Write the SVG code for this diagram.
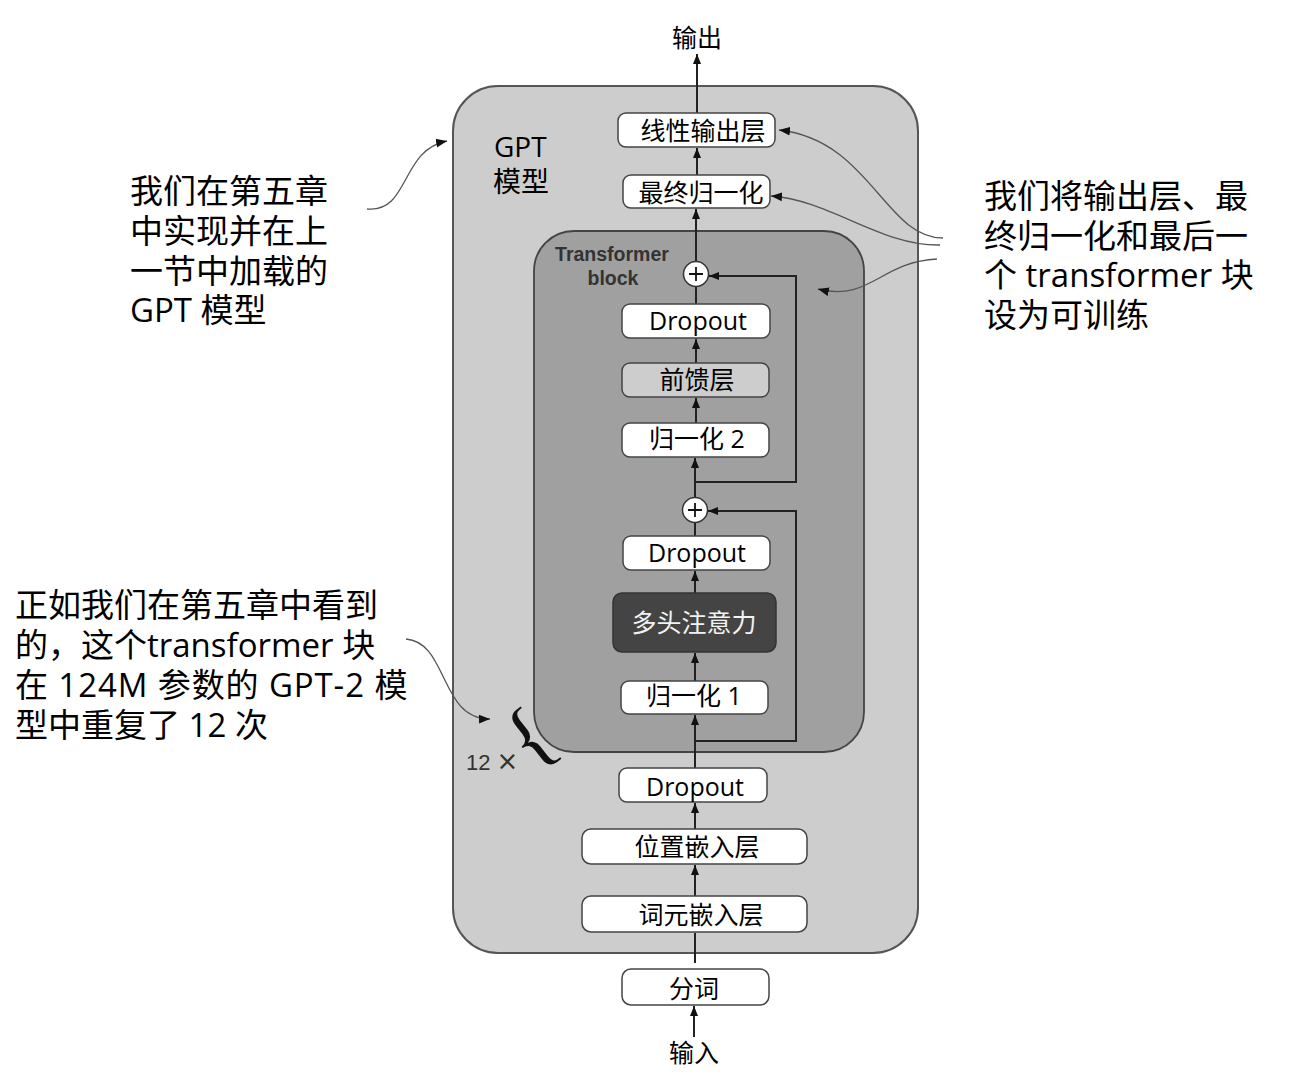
<svg xmlns="http://www.w3.org/2000/svg" width="1290" height="1075" viewBox="0 0 1290 1075">
<style>
.node{fill:#fff;stroke:#444;stroke-width:1.5}
.lbl{font-family:"Open Sans","Noto Sans CJK SC",sans-serif;font-size:25px;fill:#000;text-anchor:middle}
.ann{font-family:"Open Sans","Noto Sans CJK SC",sans-serif;font-size:33px;fill:#000}
.flow{fill:none;stroke:#222;stroke-width:2}
.callout{fill:none;stroke:#555;stroke-width:1.3}
</style>
<defs>
<marker id="ah" viewBox="0 0 10 10" refX="10" refY="5" markerUnits="userSpaceOnUse" markerWidth="10" markerHeight="10" orient="auto">
<path d="M0,1 L10,5 L0,9 z" fill="#111"/>
</marker>
<marker id="ah2" viewBox="0 0 10 10" refX="10" refY="5" markerUnits="userSpaceOnUse" markerWidth="11" markerHeight="11" orient="auto">
<path d="M0,1 L10,5 L0,9 z" fill="#111"/>
</marker>
</defs>
<rect width="1290" height="1075" fill="#fff"/>

<g id="gpt-model">
<rect x="453" y="86" width="465" height="867" rx="45" fill="#cdcdcd" stroke="#555" stroke-width="2"/>
<text x="494" y="157" font-family="'Open Sans','Noto Sans CJK SC',sans-serif" font-size="28" fill="#000">GPT</text>
<text x="493" y="192" font-family="'Open Sans','Noto Sans CJK SC',sans-serif" font-size="28" fill="#000">模型</text>
</g>

<g id="transformer-block">
<rect x="534" y="231" width="330" height="521" rx="40" fill="#a0a0a0" stroke="#444" stroke-width="1.8"/>
<text x="612" y="261" font-family="'Liberation Sans',Arial,sans-serif" font-size="19.5" font-weight="bold" fill="#333" text-anchor="middle">Transformer</text>
<text x="613" y="285" font-family="'Liberation Sans',Arial,sans-serif" font-size="19.5" font-weight="bold" fill="#333" text-anchor="middle">block</text>
</g>

<g id="connectors">
<path class="flow" d="M694,1037 L694,1006" marker-end="url(#ah)"/>
<path class="flow" d="M695,963 L695,933"/>
<path class="flow" d="M695,896 L695,865" marker-end="url(#ah)"/>
<path class="flow" d="M695,829 L695,803" marker-end="url(#ah)"/>
<path class="flow" d="M695,768 L695,715" marker-end="url(#ah)"/>
<path class="flow" d="M695,681 L695,653" marker-end="url(#ah)"/>
<path class="flow" d="M695,593 L695,571" marker-end="url(#ah)"/>
<path class="flow" d="M695,536 L695,523"/>
<path class="flow" d="M695,497 L695,458" marker-end="url(#ah)"/>
<path class="flow" d="M696,423 L696,398" marker-end="url(#ah)"/>
<path class="flow" d="M696,363 L696,339" marker-end="url(#ah)"/>
<path class="flow" d="M696,304 L696,287"/>
<path class="flow" d="M696,261 L696,209" marker-end="url(#ah)"/>
<path class="flow" d="M697,175 L697,148" marker-end="url(#ah)"/>
<path class="flow" d="M697,113 L697,54" marker-end="url(#ah)"/>
<path class="flow" d="M695,741 L796,741 L796,511 L708,511" marker-end="url(#ah)"/>
<path class="flow" d="M695,482 L796,482 L796,276 L709,276" marker-end="url(#ah)"/>
</g>

<g id="plus-top">
<circle cx="696" cy="274" r="12.5" fill="#fff" stroke="#333" stroke-width="1.5"/>
<path d="M689,274 H703 M696,267 V281" stroke="#111" stroke-width="1.8"/>
</g>
<g id="plus-bottom">
<circle cx="695" cy="510" r="12.5" fill="#fff" stroke="#333" stroke-width="1.5"/>
<path d="M688,510 H702 M695,503 V517" stroke="#111" stroke-width="1.8"/>
</g>

<g id="linear-output"><rect class="node" x="618" y="113" width="157" height="34" rx="8"/><text class="lbl" x="703" y="140">线性输出层</text></g>
<g id="final-norm"><rect class="node" x="623" y="175" width="147" height="33" rx="8"/><text class="lbl" x="701" y="202">最终归一化</text></g>
<g id="dropout-3"><rect class="node" x="622" y="304" width="148" height="34" rx="8"/><text class="lbl" x="698" y="330">Dropout</text></g>
<g id="feed-forward"><rect x="622" y="363" width="147" height="34" rx="8" fill="#cdcdcd" stroke="#444" stroke-width="1.5"/><text class="lbl" x="697" y="389">前馈层</text></g>
<g id="norm-2"><rect class="node" x="622" y="423" width="147" height="34" rx="8"/><text class="lbl" x="697" y="448">归一化 2</text></g>
<g id="dropout-2"><rect class="node" x="623" y="536" width="147" height="34" rx="8"/><text class="lbl" x="697" y="562">Dropout</text></g>
<g id="multi-head-attention"><rect x="613" y="593" width="163" height="59" rx="9" fill="#444" stroke="#333" stroke-width="1.5"/><text class="lbl" x="694" y="632" style="fill:#f2f2f2">多头注意力</text></g>
<g id="norm-1"><rect class="node" x="621" y="681" width="147" height="33" rx="8"/><text class="lbl" x="694" y="705">归一化 1</text></g>
<g id="dropout-1"><rect class="node" x="619" y="768" width="148" height="34" rx="8"/><text class="lbl" x="695" y="796">Dropout</text></g>
<g id="pos-embedding"><rect class="node" x="582" y="829" width="225" height="35" rx="9"/><text class="lbl" x="697" y="856">位置嵌入层</text></g>
<g id="token-embedding"><rect class="node" x="582" y="896" width="225" height="36" rx="9"/><text class="lbl" x="701" y="924">词元嵌入层</text></g>
<g id="tokenizer"><rect class="node" x="622" y="969" width="147" height="36" rx="9"/><text class="lbl" x="694" y="998">分词</text></g>
<g id="output-label"><text class="lbl" x="697" y="47">输出</text></g>
<g id="input-label"><text class="lbl" x="694" y="1062">输入</text></g>

<g id="repeat-12">
<text x="466" y="770" font-family="'Liberation Sans',Arial,sans-serif" font-size="22" fill="#333">12 <tspan font-family="'DejaVu Sans',sans-serif" font-size="26">×</tspan></text>
<text transform="translate(533,742) rotate(-38)" x="0" y="20" font-family="'Liberation Serif','Times New Roman',serif" font-size="80" fill="#111" text-anchor="middle">{</text>
</g>

<g id="annotation-left-top">
<text class="ann" x="130" y="203">我们在第五章</text>
<text class="ann" x="130" y="243">中实现并在上</text>
<text class="ann" x="130" y="283">一节中加载的</text>
<text class="ann" x="130" y="322">GPT 模型</text>
<path class="callout" d="M367,209 C410,213 400,150 447,141" marker-end="url(#ah2)"/>
</g>

<g id="annotation-right">
<text class="ann" x="984" y="208">我们将输出层、最</text>
<text class="ann" x="984" y="248">终归一化和最后一</text>
<text class="ann" x="984" y="287">个 transformer 块</text>
<text class="ann" x="984" y="327">设为可训练</text>
<path class="callout" d="M943,238 C885,238 870,140 779,130" marker-end="url(#ah2)"/>
<path class="callout" d="M940,245 C880,246 830,200 771,196" marker-end="url(#ah2)"/>
<path class="callout" d="M937,259 C880,262 870,302 818,289" marker-end="url(#ah2)"/>
</g>

<g id="annotation-left-bottom">
<text class="ann" x="15" y="617">正如我们在第五章中看到</text>
<text class="ann" x="15" y="657">的，这个transformer 块</text>
<text class="ann" x="15" y="697" letter-spacing="0.9">在 124M 参数的 GPT-2 模</text>
<text class="ann" x="15" y="737">型中重复了 12 次</text>
<path class="callout" d="M406,639 C448,642 440,720 490,719" marker-end="url(#ah2)"/>
</g>
</svg>
